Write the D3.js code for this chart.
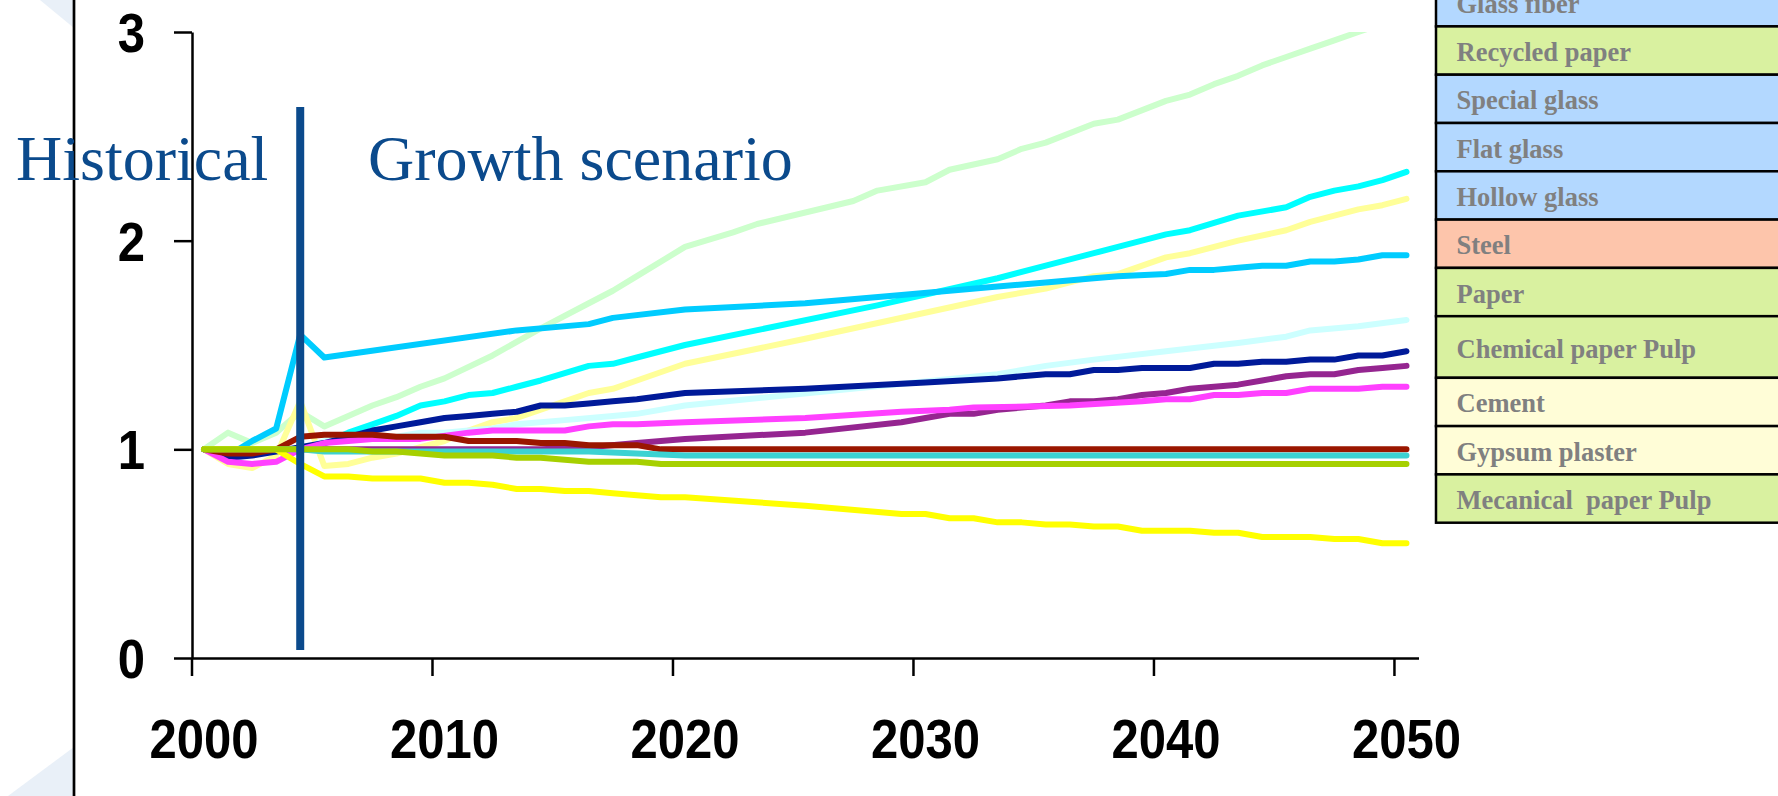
<!DOCTYPE html>
<html lang="en">
<head>
  <meta charset="UTF-8">
  <title>Material demand index, historical and growth scenario</title>
  <script src="https://cdn.jsdelivr.net/npm/d3@7"></script>
  <style>
    html, body {
      margin: 0;
      padding: 0;
      background: #fff;
    }
    svg {
      display: block;
    }
    .legend text {
      white-space: pre;
    }
  </style>
</head>
<body>
  <div id="chart"></div>
  <script>
    // ---- data ----
    var firstYear = 2000, lastYear = 2050;
    var historicalEnd = 2004;
    var yTicks = [0, 1, 2, 3];
    var xTicks = [2000, 2010, 2020, 2030, 2040, 2050];

    var lightGreen = [[2000,1.00],[2001,1.08],[2002,1.03],[2003,1.08],[2004,1.18],[2005,1.11],[2006,1.16],[2007,1.21],[2008,1.25],[2009,1.30],[2010,1.34],[2012,1.45],[2014,1.58],[2016,1.70],[2017,1.76],[2018,1.83],[2020,1.97],[2022,2.04],[2023,2.08],[2027,2.19],[2028,2.24],[2030,2.28],[2031,2.34],[2033,2.39],[2034,2.44],[2035,2.47],[2037,2.56],[2038,2.58],[2040,2.67],[2041,2.70],[2042,2.75],[2043,2.79],[2044,2.84],[2045,2.88],[2046,2.92],[2047,2.96],[2048,3.00],[2049,3.04],[2050,3.08]];
    var cyan = [[2000,1.00],[2004,1.00],[2005,1.03],[2006,1.08],[2007,1.12],[2008,1.16],[2009,1.21],[2010,1.23],[2011,1.26],[2012,1.27],[2013,1.30],[2014,1.33],[2016,1.40],[2017,1.41],[2018,1.44],[2020,1.50],[2028,1.69],[2033,1.82],[2035,1.88],[2037,1.94],[2038,1.97],[2040,2.03],[2041,2.05],[2043,2.12],[2045,2.16],[2046,2.21],[2047,2.24],[2048,2.26],[2049,2.29],[2050,2.33]];
    var lightYellow = [[2000,1.00],[2001,0.93],[2002,0.91],[2003,0.97],[2004,1.23],[2005,0.92],[2006,0.93],[2007,0.96],[2008,0.98],[2009,1.01],[2010,1.04],[2011,1.09],[2012,1.13],[2013,1.15],[2014,1.19],[2015,1.23],[2016,1.27],[2017,1.29],[2018,1.33],[2020,1.41],[2025,1.53],[2033,1.73],[2035,1.77],[2037,1.83],[2038,1.84],[2040,1.92],[2041,1.94],[2043,2.00],[2045,2.05],[2046,2.09],[2047,2.12],[2048,2.15],[2049,2.17],[2050,2.20]];
    var skyBlue = [[2000,1.00],[2001,0.97],[2002,1.04],[2003,1.10],[2004,1.55],[2005,1.44],[2013,1.57],[2016,1.60],[2017,1.63],[2020,1.67],[2025,1.70],[2029,1.74],[2033,1.78],[2035,1.80],[2037,1.82],[2038,1.83],[2040,1.84],[2041,1.86],[2042,1.86],[2043,1.87],[2044,1.88],[2045,1.88],[2046,1.90],[2047,1.90],[2048,1.91],[2049,1.93],[2050,1.93]];
    var lightCyan = [[2000,1.00],[2004,1.00],[2005,1.04],[2006,1.05],[2007,1.05],[2008,1.06],[2009,1.08],[2010,1.08],[2011,1.09],[2012,1.10],[2013,1.12],[2015,1.14],[2017,1.16],[2018,1.17],[2020,1.21],[2033,1.36],[2035,1.40],[2037,1.43],[2040,1.47],[2043,1.51],[2045,1.54],[2046,1.57],[2048,1.59],[2050,1.62]];
    var navy = [[2000,1.00],[2001,0.96],[2002,0.97],[2003,0.99],[2004,1.01],[2005,1.03],[2006,1.06],[2007,1.09],[2008,1.11],[2009,1.13],[2010,1.15],[2011,1.16],[2012,1.17],[2013,1.18],[2014,1.21],[2015,1.21],[2016,1.22],[2017,1.23],[2018,1.24],[2020,1.27],[2025,1.29],[2030,1.32],[2033,1.34],[2034,1.35],[2035,1.36],[2036,1.36],[2037,1.38],[2038,1.38],[2039,1.39],[2041,1.39],[2042,1.41],[2043,1.41],[2044,1.42],[2045,1.42],[2046,1.43],[2047,1.43],[2048,1.45],[2049,1.45],[2050,1.47]];
    var purple = [[2000,1.00],[2014,1.00],[2016,1.01],[2018,1.03],[2020,1.05],[2025,1.08],[2029,1.13],[2030,1.15],[2031,1.17],[2032,1.17],[2033,1.19],[2034,1.20],[2035,1.21],[2036,1.23],[2037,1.23],[2038,1.24],[2039,1.26],[2040,1.27],[2041,1.29],[2042,1.30],[2043,1.31],[2044,1.33],[2045,1.35],[2046,1.36],[2047,1.36],[2048,1.38],[2049,1.39],[2050,1.40]];
    var magenta = [[2000,1.00],[2001,0.94],[2002,0.93],[2003,0.94],[2004,1.00],[2005,1.03],[2007,1.05],[2009,1.05],[2011,1.08],[2012,1.09],[2015,1.09],[2016,1.11],[2017,1.12],[2018,1.12],[2020,1.13],[2025,1.15],[2029,1.18],[2031,1.19],[2032,1.20],[2036,1.21],[2039,1.23],[2040,1.24],[2041,1.24],[2042,1.26],[2043,1.26],[2044,1.27],[2045,1.27],[2046,1.29],[2048,1.29],[2049,1.30],[2050,1.30]];
    var darkRed = [[2000,1.00],[2001,0.98],[2002,0.98],[2003,1.00],[2004,1.06],[2005,1.07],[2007,1.07],[2008,1.06],[2010,1.06],[2011,1.04],[2013,1.04],[2014,1.03],[2015,1.03],[2016,1.02],[2018,1.02],[2019,1.00],[2050,1.00]];
    var teal = [[2000,1.00],[2004,1.00],[2005,0.99],[2016,0.99],[2018,0.98],[2020,0.97],[2050,0.97]];
    var yellow = [[2000,1.00],[2003,1.00],[2004,0.93],[2005,0.87],[2006,0.87],[2007,0.86],[2009,0.86],[2010,0.84],[2011,0.84],[2012,0.83],[2013,0.81],[2014,0.81],[2015,0.80],[2016,0.80],[2017,0.79],[2018,0.78],[2019,0.77],[2020,0.77],[2025,0.73],[2029,0.69],[2030,0.69],[2031,0.67],[2032,0.67],[2033,0.65],[2034,0.65],[2035,0.64],[2036,0.64],[2037,0.63],[2038,0.63],[2039,0.61],[2041,0.61],[2042,0.60],[2043,0.60],[2044,0.58],[2046,0.58],[2047,0.57],[2048,0.57],[2049,0.55],[2050,0.55]];
    var yellowGreen = [[2000,1.00],[2006,1.00],[2007,0.99],[2008,0.99],[2009,0.98],[2010,0.97],[2012,0.97],[2013,0.96],[2014,0.96],[2015,0.95],[2016,0.94],[2018,0.94],[2019,0.93],[2050,0.93]];

    // drawing order, bottom to top
    var series = [lightGreen, cyan, lightYellow, skyBlue, lightCyan, navy, purple, magenta, darkRed, teal, yellow, yellowGreen];
    var seriesColors = ["#ccffcc", "#00ffff", "#ffff99", "#00ccff", "#ccffff", "#001a99", "#952590", "#ff40ff", "#9a1600", "#3cd2d2", "#ffff00", "#a6d000"];

    var legendLabels = ["Glass fiber", "Recycled paper", "Special glass", "Flat glass", "Hollow glass", "Steel", "Paper", "Chemical paper Pulp", "Cement", "Gypsum plaster", "Mecanical  paper Pulp"];
    var legendGroups = ["glass", "paper", "glass", "glass", "glass", "steel", "paper", "paper", "mineral", "mineral", "paper"];
    var groupColors = { glass: "#b3d8ff", paper: "#d9f1a0", steel: "#fdc5ab", mineral: "#fffdd7" };

    // ---- layout ----
    var width = 1778, height = 796;
    var plot = { left: 192, right: 1418.5, top: 32, bottom: 658 };
    var blue = "#0b4a8c";
    var tickFont = "'Liberation Sans', Arial, sans-serif";
    var squeeze = 0.875; // tick labels are drawn narrow
    var legendBox = { x: 1436, top: -21.9, rowH: 48.3, tallRow: "Chemical paper Pulp", tallH: 61.6, textX: 1456.5 };

    var svg = d3.select("#chart").append("svg")
      .attr("width", width)
      .attr("height", height);

    // slide decoration
    svg.append("polygon")
      .attr("points", "40,0 74,0 74,28")
      .attr("fill", "#e9f0f8");
    svg.append("polygon")
      .attr("points", "8,796 74,796 74,747")
      .attr("fill", "#e9f0f8");
    svg.append("line")
      .attr("x1", 74).attr("x2", 74)
      .attr("y1", 0).attr("y2", height)
      .attr("stroke", "#000")
      .attr("stroke-width", 2.7);

    var x = d3.scaleBand()
      .domain(d3.range(firstYear, lastYear + 1))
      .range([plot.left, plot.right])
      .padding(0);
    var half = x.bandwidth() / 2;
    var y = d3.scaleLinear().domain([0, 3]).range([plot.bottom, plot.top]);

    // annotations text
    svg.append("text")
      .attr("x", 16).attr("y", 180)
      .attr("font-family", "'Liberation Serif', 'Times New Roman', serif")
      .attr("font-size", 64)
      .attr("fill", blue)
      .text("Historical");
    svg.append("text")
      .attr("x", 368).attr("y", 180)
      .attr("font-family", "'Liberation Serif', 'Times New Roman', serif")
      .attr("font-size", 64)
      .attr("fill", blue)
      .text("Growth scenario");

    // axes
    var yAxis = svg.append("g")
      .attr("transform", "translate(" + plot.left + ",0)")
      .call(d3.axisLeft(y).tickValues(yTicks).tickSize(18).tickSizeOuter(0).tickFormat(d3.format("d")));
    yAxis.selectAll("text")
      .attr("x", -47 / squeeze)
      .attr("dy", "0.35em")
      .attr("transform", "scale(" + squeeze + ",1)");

    var xAxis = svg.append("g")
      .attr("transform", "translate(0," + plot.bottom + ")")
      .call(d3.axisBottom(x).tickValues(xTicks).tickSize(18).tickSizeOuter(0));
    // ticks sit on category edges, labels in the middle
    xAxis.selectAll(".tick line").attr("transform", "translate(" + (-half) + ",0)");
    xAxis.selectAll("text")
      .attr("y", 100)
      .attr("dy", 0)
      .attr("transform", "scale(" + squeeze + ",1)");

    [yAxis, xAxis].forEach(function(ax) {
      ax.attr("font-size", 56)
        .attr("font-family", tickFont)
        .attr("font-weight", "bold");
      ax.selectAll("path, line").attr("stroke", "#000").attr("stroke-width", 2.5);
      ax.selectAll("text").attr("fill", "#000");
    });

    // lines
    svg.append("clipPath").attr("id", "plot-clip")
      .append("rect")
      .attr("x", plot.left).attr("y", plot.top)
      .attr("width", plot.right - plot.left)
      .attr("height", plot.bottom - plot.top);

    var line = d3.line()
      .x(function(d) { return x(d[0]) + half; })
      .y(function(d) { return y(d[1]); });

    svg.append("g")
      .attr("clip-path", "url(#plot-clip)")
      .selectAll("path")
      .data(series)
      .enter()
      .append("path")
      .attr("d", line)
      .attr("fill", "none")
      .attr("stroke", function(d, i) { return seriesColors[i]; })
      .attr("stroke-width", 6)
      .attr("stroke-linejoin", "round")
      .attr("stroke-linecap", "round");

    // historical / scenario divider
    svg.append("line")
      .attr("x1", x(historicalEnd) + half).attr("x2", x(historicalEnd) + half)
      .attr("y1", 107).attr("y2", 650)
      .attr("stroke", blue)
      .attr("stroke-width", 8);

    // legend boxes
    var rowTop = legendBox.top;
    var rows = legendLabels.map(function(label, i) {
      var h = label === legendBox.tallRow ? legendBox.tallH : legendBox.rowH;
      var r = { label: label, group: legendGroups[i], y: rowTop, h: h };
      rowTop += h;
      return r;
    });

    var legend = svg.append("g").attr("class", "legend");
    var row = legend.selectAll("g")
      .data(rows)
      .enter()
      .append("g");
    row.append("rect")
      .attr("x", legendBox.x)
      .attr("y", function(d) { return d.y; })
      .attr("width", 400)
      .attr("height", function(d) { return d.h; })
      .attr("fill", function(d) { return groupColors[d.group]; })
      .attr("stroke", "#000")
      .attr("stroke-width", 2.5);
    row.append("text")
      .attr("x", legendBox.textX)
      .attr("y", function(d) { return d.y + d.h / 2 + 10.5; })
      .attr("font-family", "'Liberation Serif', 'Times New Roman', serif")
      .attr("font-weight", "bold")
      .attr("font-size", 26.5)
      .attr("fill", "#808080")
      .text(function(d) { return d.label; });
  </script>
</body>
</html>
